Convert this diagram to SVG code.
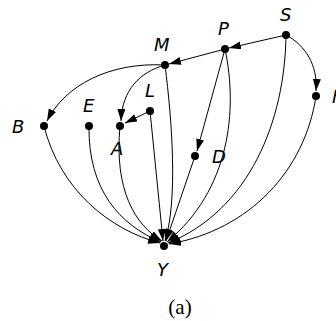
<svg xmlns="http://www.w3.org/2000/svg" width="336" height="321" viewBox="0 0 336 321">
<style>
.e{fill:none;stroke:#000;stroke-width:1;marker-end:url(#ah)}
.n{fill:#000}
.t{font-family:"DejaVu Sans",sans-serif;font-style:italic;font-size:18px;fill:#000}
.c{font-family:"Liberation Serif",serif;font-size:21px;fill:#000}
</style>
<defs>
<marker id="ah" markerUnits="userSpaceOnUse" markerWidth="12" markerHeight="10" refX="12" refY="4" orient="auto">
<path d="M0,0 L12,4 L0,8 Z" fill="#000"/>
</marker>
</defs>
<rect width="336" height="321" fill="#fff"/>
<g id="connectors">
<path class="e" d="M286,35 L229,48"/>
<path class="e" d="M225,49 L169,64"/>
<path class="e" d="M286,35 C305,45 318,65 316,91"/>
<path class="e" d="M165,65 C110,62 65,85 47,121"/>
<path class="e" d="M165,65 C140,72 122,90 121,121"/>
<path class="e" d="M150,111 L125,123"/>
<path class="e" d="M225,49 L197,151"/>
<path class="e" d="M44,126 C60,190 110,230 160,243"/>
<path class="e" d="M89,126 C88,190 120,225 161,242"/>
<path class="e" d="M120,126 C114,190 135,225 162,241"/>
<path class="e" d="M150,111 L163,241"/>
<path class="e" d="M165,65 C172,120 178,200 165,241"/>
<path class="e" d="M195,156 L166,241"/>
<path class="e" d="M225,49 C238,110 230,190 167,242"/>
<path class="e" d="M286,35 C285,120 250,210 168,243"/>
<path class="e" d="M316,96 C305,170 250,230 169,244"/>
</g>
<g id="S"><circle class="n" cx="286" cy="35" r="4"/><text class="t" x="280" y="21">S</text></g>
<g id="P"><circle class="n" cx="225" cy="49" r="4"/><text class="t" x="218" y="35">P</text></g>
<g id="M"><circle class="n" cx="165" cy="65" r="4"/><text class="t" x="154" y="51">M</text></g>
<g id="B"><circle class="n" cx="44" cy="126" r="4"/><text class="t" x="12" y="133">B</text></g>
<g id="E"><circle class="n" cx="89" cy="126" r="4"/><text class="t" x="83" y="112">E</text></g>
<g id="A"><circle class="n" cx="120" cy="126" r="4"/><text class="t" x="111" y="155">A</text></g>
<g id="L"><circle class="n" cx="150" cy="111" r="4"/><text class="t" x="145" y="97">L</text></g>
<g id="D"><circle class="n" cx="195" cy="156" r="4"/><text class="t" x="212" y="163">D</text></g>
<g id="F"><circle class="n" cx="316" cy="96" r="4"/><text class="t" x="332" y="103">F</text></g>
<g id="Y"><circle class="n" cx="164" cy="246" r="4"/><text class="t" x="157" y="276">Y</text></g>
<text class="c" x="180" y="314" text-anchor="middle">(a)</text>
</svg>
